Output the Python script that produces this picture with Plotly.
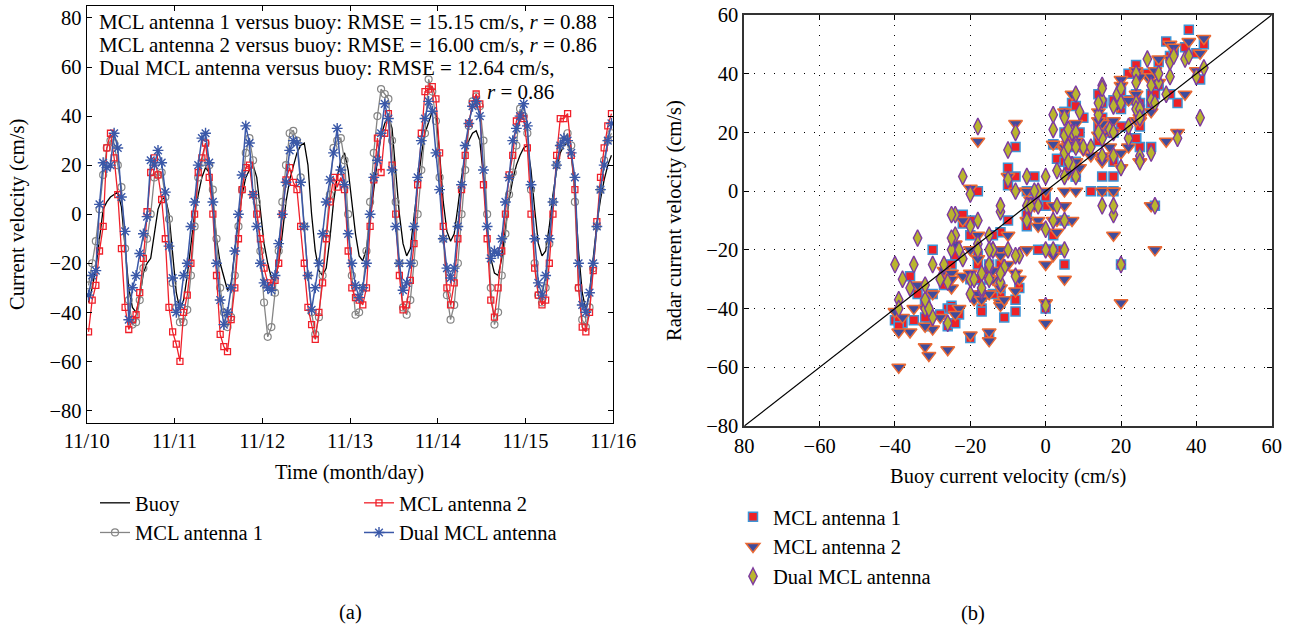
import plotly.graph_objects as go

# ---------------- data (hourly) ----------------
hours = [h + 0.5 for h in range(144)]
day_ticks = [0, 24, 48, 72, 96, 120, 144]
day_labels = ["11/10", "11/11", "11/12", "11/13", "11/14", "11/15", "11/16"]

buoy = [
    -36, -30, -22, -10, 2, 5, 7, 8, 9, 3, -12, -30,
    -38, -40, -34, -24, -20, -18, -8, 2, 6, 7, 0, -15,
    -32, -39, -35, -25, -12, 0, 8, 15, 19, 17, 5, -10,
    -20, -26, -31, -28, -15, -2, 8, 15, 18, 20, 15, 2,
    -12, -20, -26, -27, -20, -8, 5, 14, 20, 25, 28, 29,
    20, 0, -15, -23, -25, -22, -10, 5, 15, 22, 25, 18,
    5, -8, -17, -19, -14, -3, 10, 22, 32, 37, 40, 35,
    18, 0, -12, -17, -14, -2, 12, 24, 33, 38, 42, 41,
    25, 5, -7, -11, -8, 3, 15, 24, 30, 33, 34, 30,
    15, -5, -18, -24, -25, -18, -5, 6, 14, 20, 24, 27,
    28, 18, 2, -12, -17, -15, -5, 8, 18, 25, 28, 29,
    25, 8, -15, -32, -39, -32, -18, -4, 6, 14, 20, 24,
]
mcl1 = [
    -29, -20, -11, 2, 16, 27, 30, 29, 20, 11, -14, -35,
    -45, -44, -35, -22, -10, 0, 15, 16, 17, 7, -2, -28,
    -38, -44, -44, -39, -25, -5, 15, 21, 29, 20, 10, -10,
    -30, -40, -46, -42, -25, -5, 10, 25, 31, 22, 5, -15,
    -36, -50, -46, -32, -15, 5, 20, 33, 34, 30, 15, -5,
    -25, -40, -49, -42, -25, -8, 8, 27, 30, 31, 22, 0,
    -25, -41, -40, -30, -15, 5, 25, 40, 51, 49, 47, 30,
    5, -20, -38, -41, -35, -20, 0, 18, 33, 55, 50, 38,
    15, -10, -33, -43, -37, -20, 0, 18, 36, 46, 48, 44,
    30, 0, -30, -45, -40, -25, -8, 8, 17, 28, 43, 40,
    33, 10, -20, -33, -36, -30, -12, 5, 20, 28, 30, 33,
    28, 5, -30, -43, -46, -38, -22, -5, 10, 22, 30, 33,
]
mcl2 = [
    -48, -35, -29, -15, -5, 27, 33, 23, 8, -14, -38, -47,
    -43, -41, -32, -18, 1, 17, 23, 16, 6, -10, -38, -48,
    -53, -60, -40, -33, -20, 0, 17, 23, 29, 15, 0, -25,
    -49, -54, -56, -43, -30, -10, 10, 19, 20, 8, 0, -10,
    -22, -28, -29, -27, -20, 0, 14, 19, 13, 10, -5, -20,
    -38, -45, -51, -40, -28, -10, 5, 15, 11, 15, 10, -15,
    -30, -34, -35, -37, -30, -5, 14, 31, 17, 33, 41, 20,
    0, -25, -39, -37, -27, -12, 12, 33, 50, 51, 52, 47,
    25, -5, -30, -37, -28, -10, 10, 24, 37, 45, 49, 45,
    12, -10, -35, -42, -30, -15, 0, 16, 24, 38, 40, 39,
    27, 0, -22, -33, -37, -35, -20, 0, 24, 39, 39, 41,
    24, 10, -30, -46, -48, -40, -23, -3, 15, 27, 36, 41,
]
dual = [
    -33, -25, -23, 4, 21, 19, 20, 33, 27, 7, -7, -43,
    -30, -25, -16, -8, -1, 22, 20, 26, 21, 9, -13, -26,
    -40, -37, -25, -20, -5, 5, 20, 31, 33, 21, 5, -20,
    -35, -45, -40, -30, -15, 0, 16, 36, 29, 8, -5, -20,
    -28, -30, -31, -25, -12, 0, 13, 26, 30, 29, 13, -5,
    -25, -39, -30, -20, -8, 5, 14, 25, 35, 18, 12, -8,
    -20, -29, -34, -30, -20, 0, 15, 22, 33, 45, 39, 18,
    -5, -20, -31, -28, -20, -5, 15, 30, 39, 46, 42, 25,
    10, -10, -22, -26, -22, -5, 12, 28, 37, 44, 46, 40,
    18, -5, -18, -15, -16, -10, 5, 15, 30, 35, 40, 45,
    36, 12, -10, -28, -33, -25, -10, 5, 20, 28, 31, 30,
    25, 15, -20, -37, -40, -32, -20, -5, 10, 20, 30, 37,
]
left_yticks = [-80, -60, -40, -20, 0, 20, 40, 60, 80]
right_ticks = [-80, -60, -40, -20, 0, 20, 40, 60]
right_xlabels = ["80", "\u221260", "\u221240", "\u221220", "0", "20", "40", "60"]
diag = [-80, 60]
stats_lines = [
    "MCL antenna 1 versus buoy: RMSE = 15.15 cm/s, <i>r</i> = 0.88",
    "MCL antenna 2 versus buoy: RMSE = 16.00 cm/s, <i>r</i> = 0.86",
    "Dual MCL antenna versus buoy: RMSE = 12.64 cm/s,",
    "<i>r</i> = 0.86",
]

W, H = 1293, 629
FONT = "Liberation Serif"
FS = 20.5


def px(x):
    return x / W


def py(y):
    return 1 - y / H


fig = go.Figure()

# ---------------- left: time series ----------------
fig.add_trace(go.Scatter(x=hours, y=buoy, name="Buoy", mode="lines",
                         line=dict(color="black", width=1.3),
                         xaxis="x", yaxis="y", legend="legend"))
fig.add_trace(go.Scatter(x=hours, y=mcl1, name="MCL antenna 1", mode="lines+markers",
                         line=dict(color="#858585", width=1.3),
                         marker=dict(symbol="circle-open", size=7, color="#858585",
                                     line=dict(width=1.2)),
                         xaxis="x", yaxis="y", legend="legend"))
fig.add_trace(go.Scatter(x=hours, y=mcl2, name="MCL antenna 2", mode="lines+markers",
                         line=dict(color="#f0202a", width=1.3),
                         marker=dict(symbol="square-open", size=6, color="#f0202a",
                                     line=dict(width=1.3)),
                         xaxis="x", yaxis="y", legend="legend2"))
fig.add_trace(go.Scatter(x=hours, y=dual, name="Dual MCL antenna", mode="lines+markers",
                         line=dict(color="#3a58a8", width=1.5),
                         marker=dict(symbol="asterisk-open", size=9, color="#3a58a8",
                                     line=dict(width=1.4, color="#3a58a8")),
                         xaxis="x", yaxis="y", legend="legend2"))

# ---------------- right: scatter ----------------
fig.add_trace(go.Scatter(x=buoy, y=mcl1, name="MCL antenna 1", mode="markers",
                         marker=dict(symbol="square", size=9, color="#ee2026",
                                     line=dict(color="#3d94d6", width=1.5)),
                         xaxis="x2", yaxis="y2", legend="legend3"))
fig.add_trace(go.Scatter(x=buoy, y=mcl2, name="MCL antenna 2", mode="markers",
                         marker=dict(symbol="triangle-down", size=12, color="#3f4c9c",
                                     line=dict(color="#ea6a35", width=1.5)),
                         xaxis="x2", yaxis="y2", legend="legend3"))
fig.add_trace(go.Scatter(x=buoy, y=dual, name="Dual MCL antenna", mode="markers",
                         marker=dict(symbol="diamond-tall", size=12, color="#b9b52e",
                                     line=dict(color="#7d3aa0", width=1.4)),
                         xaxis="x2", yaxis="y2", legend="legend3"))
fig.add_trace(go.Scatter(x=diag, y=diag, mode="lines", showlegend=False,
                         line=dict(color="black", width=1.2),
                         xaxis="x2", yaxis="y2", hoverinfo="skip"))

axis_common = dict(ticks="inside", ticklen=5, tickwidth=1, tickcolor="black",
                   showline=True, mirror="ticks", zeroline=False,
                   tickfont=dict(family=FONT, size=FS, color="black"),
                   automargin=False)

fig.update_layout(
    width=W, height=H,
    margin=dict(l=0, r=0, t=0, b=0),
    paper_bgcolor="white", plot_bgcolor="white",
    font=dict(family=FONT, size=FS, color="black"),
    showlegend=True,
    xaxis=dict(domain=[px(86.7), px(613.3)], range=[0, 144], anchor="y",
               tickvals=day_ticks, ticktext=day_labels, showgrid=False,
               linecolor="black", linewidth=1.3, **axis_common),
    yaxis=dict(domain=[py(422.7), py(5.7)], range=[-85, 85], anchor="x",
               tickvals=left_yticks, showgrid=False,
               linecolor="black", linewidth=1.3, **axis_common),
    xaxis2=dict(domain=[px(744.3), px(1271.7)], range=[-80, 60], anchor="y2",
                tickvals=right_ticks, ticktext=right_xlabels,
                showgrid=True, gridcolor="black", gridwidth=1, griddash="1px,9px",
                linecolor="#333333", linewidth=2, **axis_common),
    yaxis2=dict(domain=[py(426), py(15)], range=[-80, 60], anchor="x2",
                tickvals=right_ticks,
                showgrid=True, gridcolor="black", gridwidth=1, griddash="1px,9px",
                linecolor="#333333", linewidth=2, **axis_common),
    legend=dict(x=px(95), y=py(483), xanchor="left", yanchor="top",
                bgcolor="rgba(0,0,0,0)", font=dict(family=FONT, size=FS),
                tracegroupgap=0),
    legend2=dict(x=px(359), y=py(483), xanchor="left", yanchor="top",
                 bgcolor="rgba(0,0,0,0)", font=dict(family=FONT, size=FS),
                 tracegroupgap=0),
    legend3=dict(x=px(733), y=py(497), xanchor="left", yanchor="top",
                 bgcolor="rgba(0,0,0,0)", font=dict(family=FONT, size=FS),
                 tracegroupgap=0),
)

ann = []
ann.append(dict(text="Current velocity (cm/s)", x=px(18), y=py(215), textangle=-90))
ann.append(dict(text="Radar current velocity (cm/s)", x=px(675), y=py(221), textangle=-90))
ann.append(dict(text="Time (month/day)", x=px(349), y=py(472)))
ann.append(dict(text="Buoy current velocity (cm/s)", x=px(1008), y=py(476)))
ann.append(dict(text="(a)", x=px(350), y=py(612)))
ann.append(dict(text="(b)", x=px(973), y=py(613)))
for a in ann:
    a.update(xref="paper", yref="paper", showarrow=False,
             xanchor="center", yanchor="middle",
             font=dict(family=FONT, size=FS, color="black"))
stat_y = [21.7, 45, 68.3, 91.7]
for i, line in enumerate(stats_lines):
    if i < 3:
        ann.append(dict(text=line, x=px(97), y=py(stat_y[i]), xref="paper", yref="paper",
                        showarrow=False, xanchor="left", yanchor="middle",
                        font=dict(family=FONT, size=21, color="black")))
    else:
        ann.append(dict(text=line, x=px(556), y=py(stat_y[i]), xref="paper", yref="paper",
                        showarrow=False, xanchor="right", yanchor="middle",
                        font=dict(family=FONT, size=21, color="black")))
fig.update_layout(annotations=ann)

fig.write_html("out.html")
